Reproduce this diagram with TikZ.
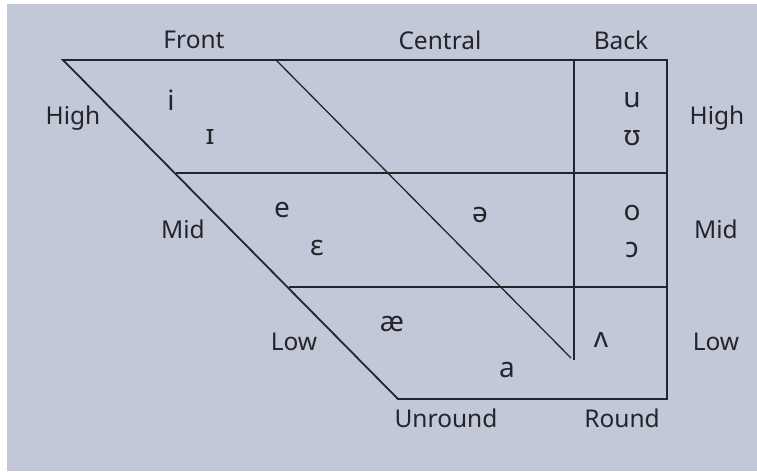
\documentclass[tikz,border=0pt]{standalone}
\usepackage{fontspec}
\setmainfont{Noto Sans}
\definecolor{bgc}{RGB}{195,200,217}
\definecolor{ink}{RGB}{35,37,42}
\tikzset{
  lbl/.style={text=ink, font=\fontsize{24.5}{28}\selectfont, inner sep=0pt, anchor=center},
  vow/.style={text=ink, font=\fontsize{28}{30}\selectfont, inner sep=0pt, anchor=center},
  edge/.style={draw=ink, line width=1.8pt},
  inner/.style={draw=ink, line width=1.3pt}
}
\begin{document}
\begin{tikzpicture}[x=1pt,y=-1pt]
\useasboundingbox (0,0) rectangle (757,471);
\fill[white] (0,0) rectangle (757,471);
\fill[bgc] (7,4) rectangle (757,471);
% corners
\coordinate (tl) at (63,60);
\coordinate (tr) at (667,60);
\coordinate (bl) at (398,399);
\coordinate (br) at (667,399);
\coordinate (ml) at (176,173);
\coordinate (mr) at (667,173);
\coordinate (ll) at (289,287);
\coordinate (lr) at (667,287);
\coordinate (vt) at (574,60);
\coordinate (vb) at (574,360);
\coordinate (ct) at (276,60);
\coordinate (cb) at (571,358);
% frame
\draw[edge] (tl) -- (tr) -- (br) -- (bl) -- cycle;
\draw[inner] (ml) -- (mr);
\draw[inner] (ll) -- (lr);
\draw[inner] (vt) -- (vb);
\draw[inner] (ct) -- (cb);
% labels
\node[lbl] (front) at (194,40) {Front};
\node[lbl] (central) at (440,40) {Central};
\node[lbl] (back) at (621,40) {Back};
\node[lbl] (highL) at (73,118) {High};
\node[lbl] (highR) at (717,118) {High};
\node[lbl] (midL) at (183,229) {Mid};
\node[lbl] (midR) at (716,229) {Mid};
\node[lbl] (lowL) at (294,342) {Low};
\node[lbl] (lowR) at (716,342) {Low};
\node[lbl] (unround) at (446,418) {Unround};
\node[lbl] (round) at (622,418) {Round};
% vowels
\node[vow] (vi) at (171,100) {i};
\node[vow] (vI) at (210,137) {ɪ};
\node[vow] (vu) at (632,100) {u};
\node[vow] (vU) at (632,138) {ʊ};
\node[vow] (ve) at (282,210) {e};
\node[vow] (vE) at (317,248) {ɛ};
\node[vow] (vschwa) at (480,215) {ə};
\node[vow] (vo) at (632,213) {o};
\node[vow] (vO) at (632,250) {ɔ};
\node[vow] (vae) at (392,324) {æ};
\node[vow] (va) at (507,370) {a};
\node[vow] (vV) at (601,340) {ʌ};
\end{tikzpicture}
\end{document}
